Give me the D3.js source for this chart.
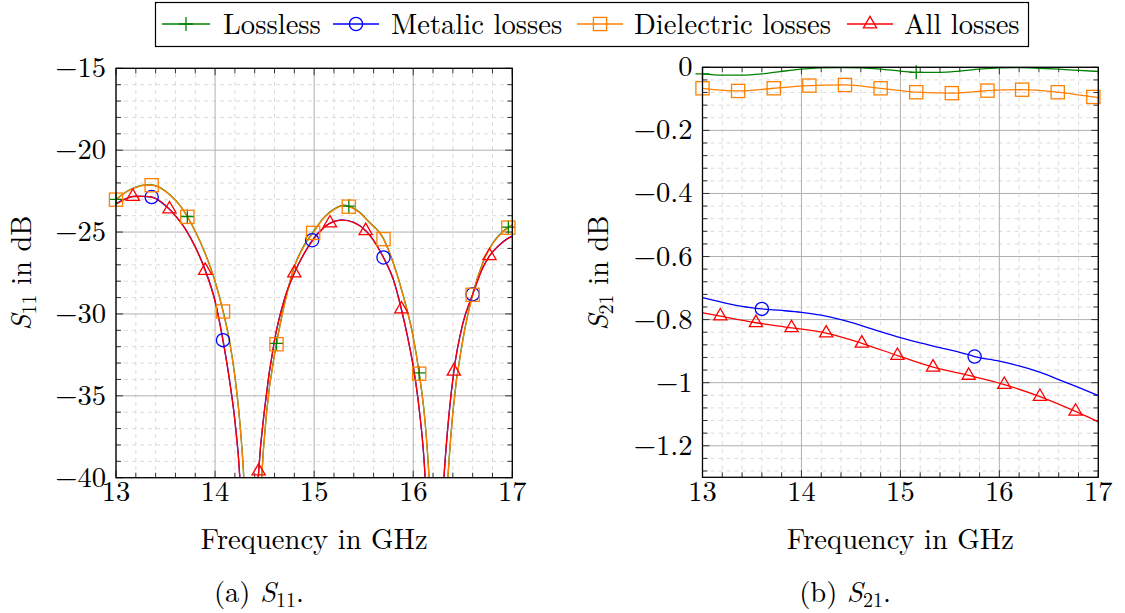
<!DOCTYPE html>
<html><head><meta charset="utf-8">
<script src="https://cdn.jsdelivr.net/npm/d3@7"></script>
<style>
body{margin:0;background:#fff;}
</style></head>
<body>
<svg id="chart" width="1125" height="613"></svg>
<script>
// ---------- DATA ----------
const xTicks = [13, 14, 15, 16, 17];
const s11Ticks = [-15, -20, -25, -30, -35, -40];
const s21Ticks = [0, -0.2, -0.4, -0.6, -0.8, -1, -1.2];
const seriesNames = ["Lossless", "Metalic losses", "Dielectric losses", "All losses"];
const seriesColors = ["#008000", "#0000ff", "#ff8000", "#ff0000"];
const seriesMarks = ["plus", "circle", "square", "triangle"];

// S11 (dB) [frequency GHz, value]
const s11Lossless = [[13.0,-23.0],[13.1,-22.55],[13.2,-22.25],[13.3,-22.12],[13.36,-22.12],[13.45,-22.3],[13.55,-22.75],[13.65,-23.4],[13.72,-24.05],[13.8,-24.95],[13.9,-26.3],[14.0,-28.0],[14.08,-29.8],[14.15,-31.8],[14.2,-33.8],[14.25,-36.6],[14.29,-40],[14.33,-46],[14.38,-58],[14.43,-46],[14.47,-40],[14.52,-36],[14.62,-31.8],[14.7,-29.4],[14.8,-27.1],[14.9,-25.8],[14.99,-25.0],[15.1,-24.1],[15.2,-23.6],[15.3,-23.36],[15.35,-23.42],[15.45,-23.75],[15.55,-24.35],[15.7,-25.4],[15.8,-26.9],[15.9,-28.9],[16.0,-31.4],[16.06,-33.6],[16.12,-36.6],[16.16,-40],[16.2,-46],[16.25,-58],[16.3,-46],[16.35,-40],[16.4,-36.0],[16.5,-31.6],[16.6,-28.8],[16.7,-26.9],[16.8,-25.7],[16.9,-25.0],[16.96,-24.7],[17.0,-24.55]];
const s11Metalic = [[13.0,-23.25],[13.1,-22.95],[13.2,-22.8],[13.36,-22.86],[13.5,-23.4],[13.6,-24.0],[13.7,-24.8],[13.8,-25.9],[13.9,-27.3],[14.0,-29.2],[14.08,-31.6],[14.15,-34.2],[14.2,-36.5],[14.25,-40],[14.29,-46],[14.34,-58],[14.39,-46],[14.44,-39.6],[14.5,-35.8],[14.6,-31.6],[14.7,-29.1],[14.8,-27.5],[14.9,-26.3],[14.98,-25.5],[15.1,-24.7],[15.2,-24.35],[15.28,-24.25],[15.4,-24.4],[15.52,-24.9],[15.6,-25.5],[15.7,-26.55],[15.8,-27.9],[15.88,-29.7],[15.95,-31.6],[16.0,-33.2],[16.06,-35.8],[16.12,-40],[16.16,-46],[16.21,-58],[16.26,-46],[16.31,-40],[16.36,-36.2],[16.41,-33.5],[16.5,-30.6],[16.6,-28.8],[16.7,-27.2],[16.77,-26.45],[16.85,-25.9],[16.95,-25.4],[17.0,-25.25]];
const s11Dielectric = [[13.0,-23.02],[13.1,-22.57],[13.2,-22.27],[13.3,-22.14],[13.36,-22.14],[13.45,-22.32],[13.55,-22.77],[13.65,-23.42],[13.72,-24.07],[13.8,-24.97],[13.9,-26.32],[14.0,-28.02],[14.08,-29.85],[14.15,-31.85],[14.2,-33.85],[14.25,-36.65],[14.29,-40.05],[14.33,-46],[14.38,-58],[14.43,-46],[14.47,-40.05],[14.52,-36.05],[14.62,-31.85],[14.7,-29.45],[14.8,-27.15],[14.9,-25.85],[14.99,-25.05],[15.1,-24.13],[15.2,-23.63],[15.3,-23.39],[15.35,-23.45],[15.45,-23.78],[15.55,-24.38],[15.7,-25.43],[15.8,-26.93],[15.9,-28.93],[16.0,-31.45],[16.06,-33.65],[16.12,-36.65],[16.16,-40.05],[16.2,-46],[16.25,-58],[16.3,-46],[16.35,-40.05],[16.4,-36.05],[16.5,-31.65],[16.6,-28.83],[16.7,-26.93],[16.8,-25.73],[16.9,-25.03],[16.96,-24.73],[17.0,-24.58]];
const s11AllLosses = [[13.0,-23.3],[13.1,-22.97],[13.17,-22.83],[13.3,-22.82],[13.4,-22.95],[13.54,-23.6],[13.6,-24.02],[13.7,-24.82],[13.8,-25.92],[13.9,-27.35],[14.0,-29.25],[14.08,-31.65],[14.15,-34.25],[14.2,-36.55],[14.25,-40.05],[14.29,-46],[14.34,-58],[14.39,-46],[14.44,-39.6],[14.5,-35.8],[14.6,-31.6],[14.7,-29.1],[14.8,-27.5],[14.9,-26.3],[15.0,-25.4],[15.16,-24.45],[15.28,-24.27],[15.4,-24.42],[15.52,-24.92],[15.6,-25.52],[15.7,-26.57],[15.8,-27.92],[15.88,-29.7],[15.95,-31.6],[16.0,-33.2],[16.06,-35.8],[16.12,-40],[16.16,-46],[16.21,-58],[16.26,-46],[16.31,-40],[16.36,-36.2],[16.41,-33.5],[16.5,-30.6],[16.6,-28.82],[16.7,-27.22],[16.77,-26.45],[16.85,-25.92],[16.95,-25.42],[17.0,-25.27]];
const s11LosslessMarks = [13.0, 13.72, 14.62, 15.35, 16.06, 16.96];
const s11MetalicMarks = [13.36, 14.08, 14.98, 15.7, 16.6];
const s11DielectricMarks = [13.0, 13.36, 13.72, 14.08, 14.62, 14.99, 15.35, 15.7, 16.06, 16.6, 16.96];
const s11AllLossesMarks = [13.17, 13.54, 13.9, 14.44, 14.8, 15.16, 15.52, 15.88, 16.41, 16.77];

// S21 (dB)
const s21Lossless = [[13.0,-0.021],[13.2,-0.025],[13.4,-0.025],[13.6,-0.021],[13.8,-0.013],[14.0,-0.006],[14.2,-0.002],[14.4,-0.001],[14.6,-0.002],[14.8,-0.006],[15.0,-0.012],[15.16,-0.016],[15.4,-0.016],[15.6,-0.012],[15.8,-0.006],[16.0,-0.002],[16.2,-0.001],[16.4,-0.003],[16.6,-0.006],[16.8,-0.01],[17.0,-0.013]];
const s21Metalic = [[13.0,-0.73],[13.2,-0.745],[13.4,-0.758],[13.6,-0.766],[13.8,-0.771],[14.0,-0.777],[14.2,-0.786],[14.4,-0.8],[14.6,-0.818],[14.8,-0.838],[15.0,-0.857],[15.2,-0.874],[15.4,-0.889],[15.6,-0.904],[15.75,-0.917],[16.0,-0.932],[16.2,-0.947],[16.4,-0.966],[16.6,-0.99],[16.8,-1.015],[17.0,-1.041]];
const s21Dielectric = [[13.0,-0.0665],[13.36,-0.075],[13.72,-0.0665],[14.08,-0.058],[14.44,-0.056],[14.8,-0.0665],[15.16,-0.079],[15.52,-0.082],[15.88,-0.074],[16.23,-0.071],[16.59,-0.079],[16.95,-0.094],[17.0,-0.096]];
const s21AllLosses = [[13.0,-0.778],[13.18,-0.789],[13.54,-0.81],[13.9,-0.826],[14.25,-0.843],[14.61,-0.875],[14.97,-0.914],[15.33,-0.951],[15.69,-0.977],[16.05,-1.006],[16.41,-1.044],[16.77,-1.091],[17.0,-1.124]];
const s21LosslessMarks = [13.0, 15.16];
const s21MetalicMarks = [13.6, 15.75];
const s21DielectricMarks = [13.0, 13.36, 13.72, 14.08, 14.44, 14.8, 15.16, 15.52, 15.88, 16.23, 16.59, 16.95];
const s21AllLossesMarks = [13.18, 13.54, 13.9, 14.25, 14.61, 14.97, 15.33, 15.69, 16.05, 16.41, 16.77];

// ---------- DRAWING ----------
const svg = d3.select("#chart");
svg.append("rect").attr("width",1125).attr("height",613).attr("fill","#fff");
const FS = 28.6;
const FONT = "Latin Modern Roman";
function txt(parent) {
  return parent.append("text").attr("font-family", FONT).attr("font-size", FS).attr("fill", "#000");
}

function marker(g, type, color, x, y) {
  const s = g.append("g").attr("transform", `translate(${x},${y})`);
  let el;
  if (type === "plus") el = s.append("path").attr("d", "M-7,0H7M0,-7V7");
  else if (type === "circle") el = s.append("circle").attr("r", 6.6);
  else if (type === "square") el = s.append("rect").attr("x",-6.6).attr("y",-6.6).attr("width",13.2).attr("height",13.2);
  else el = s.append("path").attr("d", "M0,-7.6L6.6,3.8L-6.6,3.8Z");
  el.attr("stroke", color).attr("stroke-width", 1.3).attr("fill", "none");
}

function fmt(v) {
  if (v === 0) return "0";
  return (v < 0 ? "\u2212" : "") + String(Math.abs(v));
}

function drawPlot(opts) {
  const {x0,x1,y0,y1,yDom,yMinor,yTicks,series,marks,id} = opts;
  const x = d3.scaleLinear().domain([13,17]).range([x0,x1]);
  const y = d3.scaleLinear().domain(yDom).range([y1,y0]);
  const g = svg.append("g");
  const xMinor = d3.range(13, 17.0001, 0.2).filter(v => Math.abs(v - Math.round(v)) > 1e-6);
  g.selectAll(".mgx").data(xMinor).join("line")
    .attr("x1", d => x(d)).attr("x2", d => x(d)).attr("y1", y1).attr("y2", y0)
    .attr("stroke", "#dadada").attr("stroke-width", 1).attr("stroke-dasharray", "4,4");
  g.selectAll(".mgy").data(yMinor).join("line")
    .attr("y1", d => y(d)).attr("y2", d => y(d)).attr("x1", x0).attr("x2", x1)
    .attr("stroke", "#dadada").attr("stroke-width", 1).attr("stroke-dasharray", "4,4");
  g.selectAll(".Mgx").data(xTicks).join("line")
    .attr("x1", d => x(d)).attr("x2", d => x(d)).attr("y1", y1).attr("y2", y0)
    .attr("stroke", "#b0b0b0").attr("stroke-width", 1);
  g.selectAll(".Mgy").data(yTicks).join("line")
    .attr("y1", d => y(d)).attr("y2", d => y(d)).attr("x1", x0).attr("x2", x1)
    .attr("stroke", "#b0b0b0").attr("stroke-width", 1);
  const tk = (arr, len) => {
    arr.forEach(v => {
      const px = x(v);
      g.append("line").attr("x1",px).attr("x2",px).attr("y1",y1).attr("y2",y1-len).attr("stroke","#333").attr("stroke-width",1);
      g.append("line").attr("x1",px).attr("x2",px).attr("y1",y0).attr("y2",y0+len).attr("stroke","#333").attr("stroke-width",1);
    });
  };
  const tky = (arr, len) => {
    arr.forEach(v => {
      const py = y(v);
      g.append("line").attr("y1",py).attr("y2",py).attr("x1",x0).attr("x2",x0+len).attr("stroke","#333").attr("stroke-width",1);
      g.append("line").attr("y1",py).attr("y2",py).attr("x1",x1).attr("x2",x1-len).attr("stroke","#333").attr("stroke-width",1);
    });
  };
  tk(xMinor, 5); tky(yMinor, 5); tk(xTicks, 7); tky(yTicks, 7);

  svg.append("clipPath").attr("id", "clip"+id).append("rect")
    .attr("x", x0).attr("y", y0).attr("width", x1-x0).attr("height", y1-y0);
  const line = d3.line().x(d => x(d[0])).y(d => y(d[1])).curve(d3.curveMonotoneX);
  const order = [0, 1, 2, 3];
  order.forEach(i => {
    svg.append("path").datum(series[i]).attr("d", line)
      .attr("clip-path", `url(#clip${id})`)
      .attr("fill", "none").attr("stroke", seriesColors[i]).attr("stroke-width", 1.3);
  });
  order.forEach(i => {
    const mg = svg.append("g");
    marks[i].forEach(f => {
      const pt = series[i].find(p => Math.abs(p[0] - f) < 1e-6);
      if (!pt) return;
      if (pt[1] < yDom[0] || pt[1] > yDom[1]) return;
      marker(mg, seriesMarks[i], seriesColors[i], x(pt[0]), y(pt[1]));
    });
  });
  svg.append("rect").attr("x", x0).attr("y", y0).attr("width", x1-x0).attr("height", y1-y0)
    .attr("fill", "none").attr("stroke", "#000").attr("stroke-width", 1.3);
  const xl = svg.append("g");
  xTicks.forEach(d => txt(xl).attr("x", x(d)).attr("y", 501).attr("text-anchor", "middle").text(d));
  const yl = svg.append("g");
  yTicks.forEach(d => txt(yl).attr("x", x0 - 10).attr("y", y(d) + 9).attr("text-anchor", "end").text(fmt(d)));
  txt(svg).attr("x", (x0+x1)/2).attr("y", 549).attr("text-anchor","middle").text("Frequency in GHz");
  return {x, y};
}

drawPlot({x0:116, x1:512.3, y0:68.3, y1:477.7, yDom:[-40,-15],
  yMinor: d3.range(-40, -15, 1).filter(v => v % 5 !== 0),
  yTicks: s11Ticks,
  series: [s11Lossless, s11Metalic, s11Dielectric, s11AllLosses],
  marks: [s11LosslessMarks, s11MetalicMarks, s11DielectricMarks, s11AllLossesMarks], id: "a"});

drawPlot({x0:702.5, x1:1098.3, y0:67.3, y1:477.3, yDom:[-1.3, 0],
  yMinor: d3.range(1, 33).map(k => -k*0.04).filter(v => Math.abs(v/0.2 - Math.round(v/0.2)) > 1e-6),
  yTicks: s21Ticks,
  series: [s21Lossless, s21Metalic, s21Dielectric, s21AllLosses],
  marks: [s21LosslessMarks, s21MetalicMarks, s21DielectricMarks, s21AllLossesMarks], id: "b"});

function sLabel(xc, yc, sub) {
  const t = txt(svg).attr("transform", `translate(${xc},${yc}) rotate(-90)`).attr("text-anchor", "middle");
  t.append("tspan").attr("font-style", "italic").text("S");
  t.append("tspan").attr("font-size", 20).attr("dy", 5).text(sub);
  t.append("tspan").attr("dy", -5).text(" in dB");
}
sLabel(31, 273, "11");
sLabel(608, 273, "21");

function caption(xc, pre, sub) {
  const t = txt(svg).attr("x", xc).attr("y", 602).attr("text-anchor", "middle");
  t.append("tspan").text(pre + " ");
  t.append("tspan").attr("font-style", "italic").text("S");
  t.append("tspan").attr("font-size", 20).attr("dy", 5).text(sub);
  t.append("tspan").attr("dy", -5).text(".");
}
caption(259, "(a)", "11");
caption(845, "(b)", "21");

svg.append("rect").attr("x", 155.5).attr("y", 2.5).attr("width", 873).attr("height", 44)
  .attr("fill", "#fff").attr("stroke", "#000").attr("stroke-width", 1.2);
const legPos = [{l:162, r:210, t:223}, {l:333, r:379, t:391}, {l:577, r:623, t:634}, {l:847, r:893, t:904}];
const lg = svg.append("g");
seriesNames.forEach((n, i) => {
  const p = legPos[i];
  lg.append("line").attr("x1", p.l).attr("x2", p.r).attr("y1", 24).attr("y2", 24)
    .attr("stroke", seriesColors[i]).attr("stroke-width", 1.3);
  marker(lg, seriesMarks[i], seriesColors[i], (p.l + p.r) / 2, 24);
  txt(lg).attr("x", p.t).attr("y", 34).text(n);
});
</script>
</body></html>
